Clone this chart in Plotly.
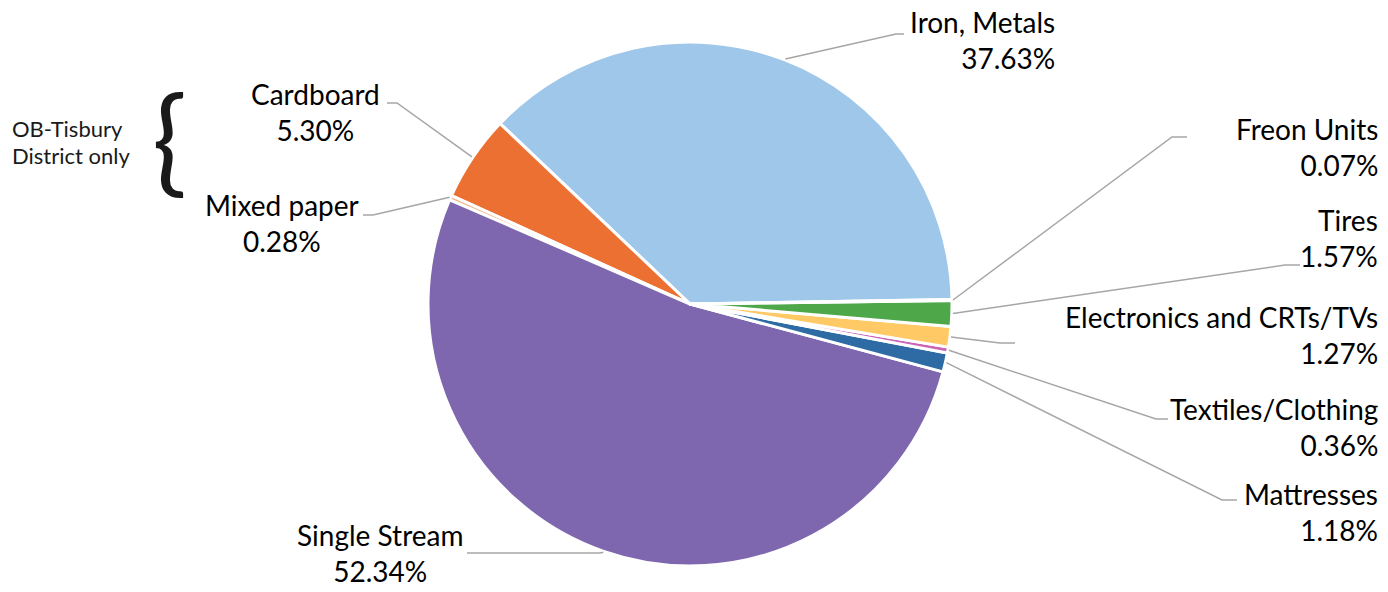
import math
import plotly.graph_objects as go

# ---------------- data ----------------
labels = ["Iron, Metals", "Cardboard", "Mixed paper", "Single Stream", "Mattresses",
          "Textiles/Clothing", "Electronics and CRTs/TVs", "Tires", "Freon Units"]
values = [37.63, 5.30, 0.28, 52.34, 1.18, 0.36, 1.27, 1.57, 0.07]
colors = ["#9FC7EA", "#EC7032", "#F6B48A", "#7E67AE", "#2E6BA4",
          "#C966B8", "#FFCA66", "#4EA84A", "#E0473C"]

# ---------------- layout constants ----------------
W, H = 1388, 592
CX, CY, R = 690, 304, 262    # pie centre / radius in page pixels
ROT = -46.47                 # plotly rotation (deg)
FONT = "Lato"
LINE_C = "#A6A6A6"

def px(x):
    return x / W

def py(y):
    return 1 - y / H

# label placement: text x, text centre y, x-anchor, elbow point, tail end x
label_pos = {
    "Iron, Metals":             (1057, 40,  "right",  (896, 34),  904),
    "Cardboard":                (315,  112, "center", (397, 103), 387),
    "Mixed paper":              (282,  223, "center", (373, 215), 363),
    "Single Stream":            (380,  553, "center", (600, 553), 467),
    "Mattresses":               (1380, 512, "right",  (1222, 500), 1237),
    "Textiles/Clothing":        (1380, 427, "right",  (1156, 419), 1168),
    "Electronics and CRTs/TVs": (1380, 335, "right",  (1000, 343), 1015),
    "Tires":                    (1380, 238, "right",  (1285, 265), 1300),
    "Freon Units":              (1380, 147, "right",  (1172, 137), 1187),
}

fig = go.Figure()
fig.add_trace(go.Pie(
    labels=labels, values=values, sort=False, direction="counterclockwise",
    rotation=ROT, textinfo="none", showlegend=False,
    marker=dict(colors=colors, line=dict(color="white", width=3)),
    domain=dict(x=[px(CX - R), px(CX + R)], y=[py(CY + R), py(CY - R)]),
))

# leader lines + labels derived from slice geometry
total = sum(values)
cum = 0.0
first = values[0] / total * 360
shapes, annotations = [], []
for lab, val in zip(labels, values):
    a = val / total * 360
    hi = ROT + first - cum
    mid = hi - a / 2
    cum += a
    rad = math.radians(mid)
    sx = CX + (R + 1) * math.sin(rad)
    sy = CY - (R + 1) * math.cos(rad)
    tx, ty, anchor, (ex, ey), endx = label_pos[lab]
    path = "M {},{} L {},{} L {},{}".format(px(sx), py(sy), px(ex), py(ey), px(endx), py(ey))
    shapes.append(dict(type="path", xref="paper", yref="paper", path=path,
                       line=dict(color=LINE_C, width=1.5)))
    annotations.append(dict(
        xref="paper", yref="paper", x=px(tx), y=py(ty), xanchor=anchor, yanchor="middle",
        align=anchor, showarrow=False,
        text="{}<br>{:.2f}%".format(lab, val),
        font=dict(family=FONT, size=28, color="#000000")))

# side note with brace
annotations.append(dict(xref="paper", yref="paper", x=px(10), y=py(128), xanchor="left",
                        yanchor="middle", showarrow=False, text="OB-Tisbury",
                        font=dict(family=FONT, size=22, color="#1a1a1a")))
annotations.append(dict(xref="paper", yref="paper", x=px(10), y=py(156), xanchor="left",
                        yanchor="middle", showarrow=False, text="District only",
                        font=dict(family=FONT, size=22, color="#1a1a1a")))
annotations.append(dict(xref="paper", yref="paper", x=px(169), y=py(137), xanchor="center",
                        yanchor="middle", showarrow=False, text="{",
                        font=dict(family=FONT, size=116, color="#1a1a1a")))

fig.update_layout(
    width=W, height=H, margin=dict(l=0, r=0, t=0, b=0),
    paper_bgcolor="white", plot_bgcolor="white",
    shapes=shapes, annotations=annotations,
)
fig.write_html("out.html", config={"displayModeBar": False},
               post_script="document.body.style.margin='0';document.body.style.padding='0';")
